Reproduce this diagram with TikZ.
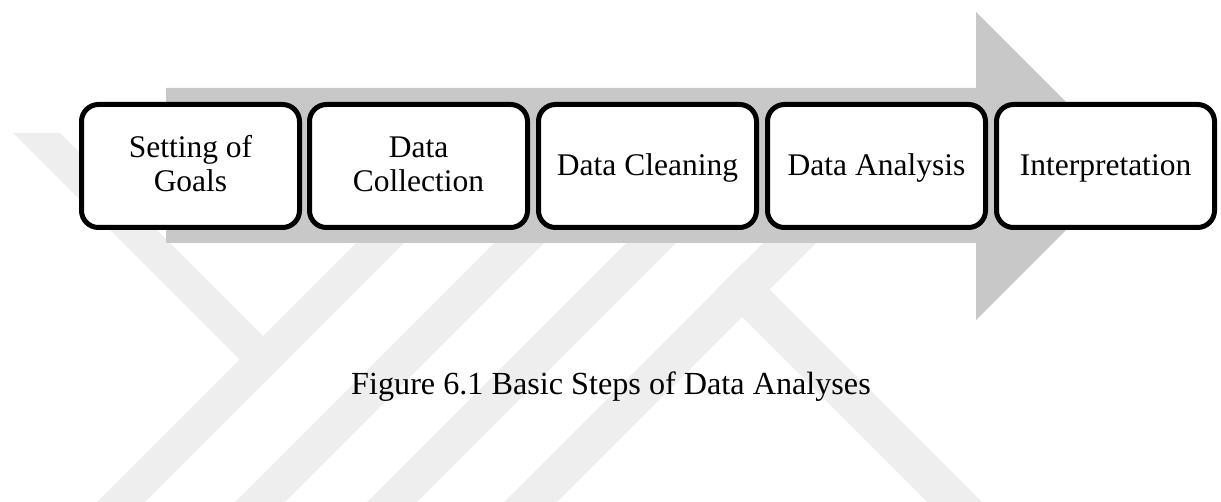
\documentclass[tikz,border=0pt]{standalone}
\usepackage{fontspec}
\setmainfont{Liberation Serif}
\definecolor{arrowgray}{RGB}{200,200,200}
\definecolor{wmgray}{RGB}{238,238,238}
\begin{document}
\begin{tikzpicture}[x=0.5pt,y=-0.5pt,
  stepbox/.style={draw=black, line width=2.5pt, fill=white, rounded corners=8.5pt,
    minimum width=109pt, minimum height=61.5pt, inner sep=0pt},
  lbl/.style={anchor=base, inner sep=0pt, font=\fontsize{15.75}{17}\selectfont},
  caplbl/.style={anchor=base, inner sep=0pt, font=\fontsize{16.1}{18}\selectfont},
  wm/.style={fill=wmgray, draw=none},
  bigarrow/.style={fill=arrowgray, draw=none}]
\useasboundingbox (0,0) rectangle (1221,502);
% faint watermark
\begin{scope}
\clip (0,133) rectangle (1221,502);
\fill[wm] (13,133) -- (60,133) -- (287,360) -- (263.5,383.5) -- cycle;
\fill[wm] (466,133) -- (514,133) -- (145,502) -- (97,502) -- cycle;
\fill[wm] (604,133) -- (654,133) -- (285,502) -- (235,502) -- cycle;
\fill[wm] (736,133) -- (786,133) -- (417,502) -- (367,502) -- cycle;
\fill[wm] (873,133) -- (926,133) -- (557,502) -- (504,502) -- cycle;
\fill[wm] (715.5,290.5) -- (743,263) -- (982,502) -- (927,502) -- cycle;
\end{scope}
% big background arrow
\fill[bigarrow] (166,88) -- (976,88) -- (976,12) -- (1130,166) -- (976,320) -- (976,243) -- (166,243) -- cycle;
% step boxes
\node[stepbox] (b1) at (190.5,166) {};
\node[stepbox] (b2) at (418.5,166) {};
\node[stepbox] (b3) at (647.5,166) {};
\node[stepbox] (b4) at (876.5,166) {};
\node[stepbox] (b5) at (1105.5,166) {};
% labels
\node[lbl] (t1a) at (190.5,158) {Setting of};
\node[lbl] (t1b) at (190.5,192) {Goals};
\node[lbl] (t2a) at (418.5,158) {Data};
\node[lbl] (t2b) at (418.5,192) {Collection};
\node[lbl] (t3) at (647.5,176) {Data Cleaning};
\node[lbl] (t4) at (876.5,176) {Data Analysis};
\node[lbl] (t5) at (1105.5,176) {Interpretation};
% caption
\node[caplbl] (cap) at (611,394) {Figure 6.1 Basic Steps of Data Analyses};
\end{tikzpicture}
\end{document}
